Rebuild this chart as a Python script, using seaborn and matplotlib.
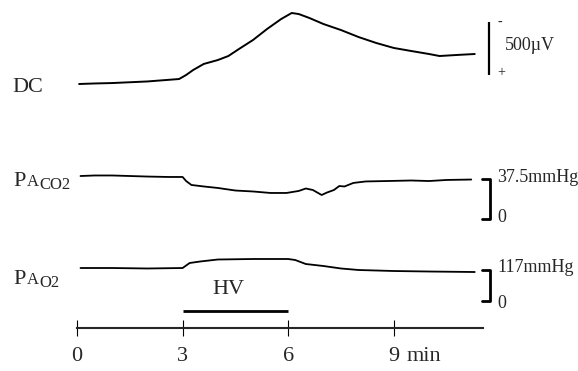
import numpy as np
import pandas as pd
import seaborn as sns
import matplotlib.pyplot as plt

# time (min) and DC shift (uV, negative = upward deflection)
dc_min = [0.06, 0.5, 1.0, 2.0, 2.9, 3.1, 3.3, 3.6, 4.0, 4.3, 4.6, 5.0, 5.4, 5.8,
          6.1, 6.3, 6.6, 7.0, 7.5, 8.0, 8.5, 9.0, 9.5, 10.0, 10.3, 10.8, 11.3]
dc_uv = [0, -5, -9, -24, -47, -85, -132, -189, -226, -264, -330, -415, -519, -613,
         -670, -660, -623, -566, -509, -443, -387, -340, -311, -283, -264, -274, -283]

co2_min = [0.1, 0.5, 1.0, 1.5, 2.0, 2.6, 3.0, 3.1, 3.25, 3.6, 4.0, 4.5, 5.0, 5.5, 5.95,
           6.3, 6.5, 6.7, 6.95, 7.1, 7.3, 7.45, 7.6, 7.85, 8.2, 8.8, 9.5, 10.0, 10.5, 11.2]
paco2 = [40.3, 40.8, 40.8, 40.3, 39.8, 39.4, 39.4, 35.6, 31.9, 30.5, 29.1, 26.7, 25.8, 24.4, 24.4,
         26.3, 28.6, 27.2, 22.5, 24.8, 27.2, 30.9, 30.5, 33.8, 35.2, 35.6, 36.1, 35.6, 36.6, 37.0]

o2_min = [0.1, 1.0, 2.0, 3.0, 3.2, 3.5, 4.0, 5.0, 6.0, 6.2, 6.5, 7.0, 7.5, 8.0, 9.0, 10.0, 11.3]
pao2 = [124.5, 124.5, 122.7, 124.5, 143.4, 149.1, 156.6, 158.5, 158.5, 154.7, 139.6, 132.1,
        122.7, 117.0, 113.2, 111.3, 109.4]

hv_start, hv_end = 3, 6
time_ticks = [0, 3, 6, 9]
tick_labels = ["0", "3", "6", "9"]
axis_end = 11.53

dc_bar = 500        # uV
dc_bar_bottom = -85
co2_bar = 37.5      # mmHg
o2_bar = 117        # mmHg

sns.set_style("white")
plt.rcParams['font.family'] = ['Liberation Serif', 'DejaVu Serif']

W, H = 578, 371
fig = plt.figure(figsize=(W / 100, H / 100), dpi=100)

# 0 min sits at x=77 px, 35.2 px per minute
x_lim = (-77 / 35.2, (W - 77) / 35.2)


def band(top, bottom, val_top, val_bottom):
    ax = fig.add_axes([0, 1 - bottom / H, 1, (bottom - top) / H])
    ax.set_xlim(*x_lim)
    ax.set_ylim(val_bottom, val_top)
    ax.patch.set_alpha(0)
    ax.axis("off")
    return ax


def ftext(x, y, s, **kw):
    fig.text(x / W, 1 - y / H, s, **kw)


# DC trace: 53 px per 500 uV, zero at y=84 px
uv_px = dc_bar / 53
ax_dc = band(0, 120, (0 - 84) * uv_px, (120 - 84) * uv_px)
sns.lineplot(data=pd.DataFrame({"t": dc_min, "v": dc_uv}), x="t", y="v",
             color="black", lw=1.4, ax=ax_dc, estimator=None)
ax_dc.vlines(11.7, dc_bar_bottom - dc_bar, dc_bar_bottom, color="black", lw=1.6)

# PaCO2: 40 px per 37.5 mmHg, zero at 219 px
co2_px = co2_bar / 40
ax_co2 = band(140, 230, (219 - 140) * co2_px, (219 - 230) * co2_px)
sns.lineplot(data=pd.DataFrame({"t": co2_min, "v": paco2}), x="t", y="v",
             color="black", lw=1.3, ax=ax_co2, estimator=None)
ax_co2.plot([11.5, 11.72, 11.72, 11.5], [co2_bar, co2_bar, 0, 0], color="black", lw=2)

# PaO2: 31 px per 117 mmHg, zero at 301 px
o2_px = o2_bar / 31
ax_o2 = band(240, 305, (301 - 240) * o2_px, (301 - 305) * o2_px)
sns.lineplot(data=pd.DataFrame({"t": o2_min, "v": pao2}), x="t", y="v",
             color="black", lw=1.3, ax=ax_o2, estimator=None)
ax_o2.plot([11.5, 11.72, 11.72, 11.5], [o2_bar, o2_bar, 0, 0], color="black", lw=2)

# time axis with HV bar
ax_t = fig.add_axes([0, 1 - 328 / H, 1, 48 / H])
ax_t.set_xlim(*x_lim)
ax_t.set_ylim(0, 1)
ax_t.patch.set_alpha(0)
for s in ["top", "left", "right"]:
    ax_t.spines[s].set_visible(False)
ax_t.spines["bottom"].set_bounds(0, axis_end)
ax_t.spines["bottom"].set_linewidth(1.5)
ax_t.set_yticks([])
ax_t.set_xticks(time_ticks)
ax_t.set_xticklabels(tick_labels)
ax_t.tick_params(axis="x", bottom=True, direction="inout", length=11, width=0.8,
                 color="black", pad=8, labelsize=16)
ax_t.annotate("min", xy=(9, 0), xycoords=ax_t.get_xaxis_transform(), xytext=(9.5, -13.5),
              textcoords="offset points", ha="left", va="top", fontsize=16)
ax_t.hlines(0.35, hv_start, hv_end, color="black", lw=2)
ax_t.text((hv_start + hv_end) / 2 - 0.2, 0.8, "HV", ha="center", va="center", fontsize=16)

# labels
ftext(12, 92, "DC", fontsize=16, va="baseline")
ftext(13, 186, "P", fontsize=16, va="baseline")
ftext(27, 186, "A", fontsize=12, va="baseline")
ftext(39, 189, "CO2", fontsize=12, va="baseline")
ftext(13, 284, "P", fontsize=16, va="baseline")
ftext(27, 284, "A", fontsize=12, va="baseline")
ftext(39, 287, "O2", fontsize=12, va="baseline")

ftext(505, 46, "500\u00b5V", fontsize=13, va="center")
ftext(498, 22, "-", fontsize=10, va="center")
ftext(497, 73, "+", fontsize=10, va="center")
ftext(497, 177, "37.5mmHg", fontsize=13, va="center")
ftext(497, 218, "0", fontsize=13, va="center")
ftext(497, 267, "117mmHg", fontsize=13, va="center")
ftext(497, 303, "0", fontsize=13, va="center")

fig.savefig("out.png", dpi=100)
